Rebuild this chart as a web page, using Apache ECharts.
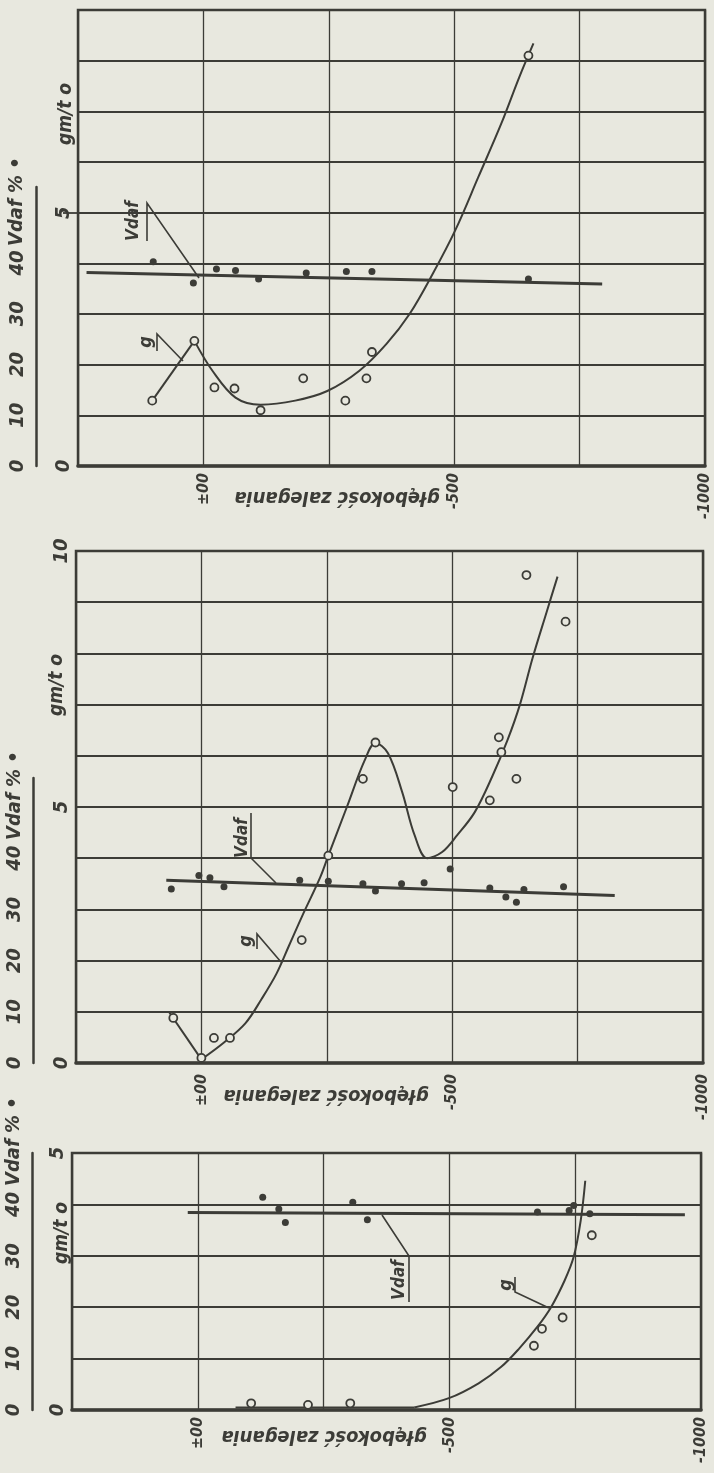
<!DOCTYPE html>
<html><head><meta charset="utf-8">
<script src="https://cdn.jsdelivr.net/npm/echarts@6.0.0/dist/echarts.min.js"></script>
<style>html,body{margin:0;padding:0;background:#e8e8df}#c{width:714px;height:1473px}</style>
</head><body><div id="c"></div>
<script>
// ---------------- data ----------------
// depth axis (głębokość zalegania), tick labels
const depthTickLabels = { "0": "±00", "-500": "-500", "-1000": "-1000" };
const gTickLabels = [0, 5, 10];
const vdafTickLabels = [0, 10, 20, 30, 40];

// Panel 1 (top)
const p1GPoints = [[102,1.29],[18,2.47],[-22,1.55],[-62,1.53],[-114,1.10],[-199,1.73],[-283,1.29],[-325,1.73],[-336,2.25],[-648,8.1]];
const p1GRise = [[102,1.29],[18,2.47]];
const p1GCurve = [[18,2.47],[-18,1.88],[-64,1.35],[-114,1.21],[-183,1.29],[-247,1.48],[-311,1.88],[-365,2.41],[-411,3.0],[-457,3.79],[-502,4.65],[-548,5.70],[-594,6.76],[-630,7.68],[-658,8.34]];
const p1VdafPoints = [[100,40.3],[20,36.1],[-26,38.9],[-64,38.6],[-110,36.9],[-205,38.1],[-285,38.4],[-336,38.4],[-648,36.9]];
const p1VdafLine = [[233,38.2],[-795,35.9]];

// Panel 2 (middle)
const p2GPoints = [[56,0.88],[0,0.1],[-25,0.49],[-57,0.49],[-200,2.40],[-253,4.05],[-322,5.55],[-347,6.26],[-501,5.39],[-575,5.13],[-593,6.36],[-598,6.07],[-628,5.55],[-648,9.53],[-726,8.62]];
const p2GRise = [[65,1.0],[0,0.07]];
const p2GCurve = [[0,0.07],[-45,0.4],[-88,0.78],[-120,1.25],[-150,1.75],[-175,2.3],[-200,2.85],[-237,3.63],[-253,4.05],[-290,5.0],[-325,5.9],[-347,6.25],[-372,6.05],[-400,5.3],[-425,4.45],[-450,4.0],[-480,4.12],[-510,4.45],[-545,4.9],[-580,5.6],[-610,6.3],[-635,7.0],[-660,7.9],[-688,8.8],[-710,9.5]];
const p2VdafPoints = [[60,34.0],[5,36.6],[-17,36.2],[-45,34.4],[-196,35.7],[-253,35.5],[-322,35.0],[-347,33.6],[-399,35.0],[-444,35.2],[-496,37.9],[-575,34.2],[-607,32.4],[-628,31.4],[-643,33.9],[-722,34.4]];
const p2VdafLine = [[70,35.7],[-824,32.7]];

// Panel 3 (bottom)
const p3GPoints = [[-106,0.13],[-219,0.10],[-303,0.13],[-668,1.25],[-684,1.58],[-725,1.80],[-783,3.40]];
const p3GRise = [[-75,0.05],[-300,0.05],[-430,0.05]];
const p3GCurve = [[-430,0.05],[-499,0.23],[-558,0.52],[-603,0.84],[-639,1.2],[-675,1.62],[-702,2.0],[-729,2.52],[-747,2.98],[-761,3.69],[-770,4.46]];
const p3VdafPoints = [[-129,41.4],[-161,39.1],[-174,36.5],[-308,40.4],[-337,37.0],[-675,38.5],[-738,38.8],[-747,39.8],[-779,38.2]];
const p3VdafLine = [[20,38.4],[-968,38.0]];

// ---------------- layout / style ----------------
const BG = '#e8e8df';
const INK = '#3c3c37';
const FONT = "'Liberation Sans Narrow','DejaVu Sans Condensed','Roboto Condensed','Liberation Sans',sans-serif";

const panels = [
  { grid:{left:78, top:10, width:627, height:456}, gMax:9,
    bar:{left:36, top:187, height:279, max:55}, depthMargin:7,
    gPoints:p1GPoints, gRise:p1GRise, gCurve:p1GCurve, vPoints:p1VdafPoints, vLine:p1VdafLine },
  { grid:{left:76, top:551, width:627, height:512}, gMax:10,
    bar:{left:33, top:778, height:285, max:55.7}, depthMargin:11,
    gPoints:p2GPoints, gRise:p2GRise, gCurve:p2GCurve, vPoints:p2VdafPoints, vLine:p2VdafLine },
  { grid:{left:72, top:1153, width:629, height:257}, gMax:5,
    bar:{left:32, top:1153, height:257, max:50}, depthMargin:7,
    gPoints:p3GPoints, gRise:p3GRise, gCurve:p3GCurve, vPoints:p3VdafPoints, vLine:p3VdafLine }
];

const grid = [], xAxis = [], yAxis = [], series = [];
const labelFont = {color:INK, fontFamily:FONT, fontWeight:'bold', fontStyle:'italic'};

panels.forEach(p => {
  const gi = grid.length;
  grid.push({left:p.grid.left, top:p.grid.top, width:p.grid.width, height:p.grid.height,
    show:true, borderColor:INK, borderWidth:2.5, backgroundColor:'transparent',
    containLabel:false, outerBoundsMode:'none'});
  const xi = xAxis.length;
  xAxis.push({type:'value', gridIndex:gi, min:-1000, max:250, interval:250, inverse:true,
    axisLine:{show:true, onZero:false, lineStyle:{color:INK, width:3.5}},
    axisTick:{show:false},
    splitLine:{show:true, lineStyle:{color:INK, width:1.3}},
    axisLabel:Object.assign({rotate:90, margin:p.depthMargin, fontSize:16,
      formatter: v => depthTickLabels[String(v)] || ''}, labelFont)
  });
  const gy = yAxis.length;
  yAxis.push({type:'value', gridIndex:gi, min:0, max:p.gMax, interval:1,
    axisLine:{show:false}, axisTick:{show:false},
    splitLine:{show:true, lineStyle:{color:INK, width:1.8}},
    axisLabel:Object.assign({rotate:90, margin:4, fontSize:20,
      formatter: v => gTickLabels.includes(v) ? String(v) : ''}, labelFont)
  });
  const vy = yAxis.length;
  yAxis.push({type:'value', gridIndex:gi, min:0, max:p.gMax*10, show:false, splitLine:{show:false}});

  const bgi = grid.length;
  grid.push({left:p.bar.left, top:p.bar.top, width:1, height:p.bar.height, show:false,
    containLabel:false, outerBoundsMode:'none'});
  xAxis.push({type:'value', gridIndex:bgi, show:false, min:0, max:1, splitLine:{show:false}});
  yAxis.push({type:'value', gridIndex:bgi, min:0, max:p.bar.max, interval:10,
    axisLine:{show:true, lineStyle:{color:INK, width:2.5}}, axisTick:{show:false},
    splitLine:{show:false},
    axisLabel:Object.assign({rotate:90, margin:8, fontSize:20,
      formatter: v => vdafTickLabels.includes(v) ? String(v) : ''}, labelFont)
  });

  series.push({type:'line', xAxisIndex:xi, yAxisIndex:gy, data:p.gRise, symbol:'none',
    lineStyle:{color:INK, width:2}, z:3});
  series.push({type:'line', xAxisIndex:xi, yAxisIndex:gy, data:p.gCurve, symbol:'none', smooth:0.35,
    lineStyle:{color:INK, width:2}, z:3});
  series.push({type:'line', xAxisIndex:xi, yAxisIndex:vy, data:p.vLine, symbol:'none',
    lineStyle:{color:INK, width:3}, z:3});
  series.push({type:'scatter', xAxisIndex:xi, yAxisIndex:gy, data:p.gPoints, symbol:'circle', symbolSize:8,
    itemStyle:{color:BG, borderColor:INK, borderWidth:1.8, opacity:1}, z:5});
  series.push({type:'scatter', xAxisIndex:xi, yAxisIndex:vy, data:p.vPoints, symbol:'circle', symbolSize:7,
    itemStyle:{color:INK, opacity:1}, z:5});
});

const R = Math.PI/2;
function txt(text, x, y, rot, size, align, extra) {
  return Object.assign({type:'text', x:x, y:y, rotation:rot, z:10,
    style:{text:text, fill:INK, font:'italic bold '+size+'px '+FONT,
      align:align || 'center', verticalAlign:'middle'}}, extra || {});
}
function pl(points, w) {
  return {type:'polyline', z:10, shape:{points:points}, style:{stroke:INK, lineWidth:w || 1.6, fill:null}};
}

const graphic = [
  txt('głębokość zalegania', 337, 497, Math.PI, 20),
  txt('głębokość zalegania', 326, 1095, Math.PI, 20),
  txt('głębokość zalegania', 324, 1436, Math.PI, 20),
  txt('gm/t o', 66, 114, R, 19),
  txt('gm/t o', 57, 685, R, 19),
  txt('gm/t o', 62, 1233, R, 19),
  txt('Vdaf % •', 17, 246, R, 20, 'left'),
  txt('Vdaf % •', 15, 840, R, 20, 'left'),
  txt('Vdaf % •', 14, 1186, R, 20, 'left'),
  // long tick at g = 5 in the top panel
  pl([[63,213],[78,213]], 1.8),
  // curve annotations
  txt('g', 146, 342, R, 18),
  pl([[157,351],[157,334],[183,361]]),
  txt('Vdaf', 134, 221, R, 17),
  pl([[147,241],[147,203],[199,278]]),
  txt('Vdaf', 243, 838, R, 17),
  pl([[251,813],[251,858],[276,883]]),
  txt('g', 246, 941, R, 18),
  pl([[257,949],[257,934],[281,962]]),
  txt('Vdaf', 400, 1280, R, 17),
  pl([[409,1302],[409,1256],[382,1215]]),
  txt('g', 506, 1285, R, 18),
  pl([[515,1277],[515,1292],[549,1308]])
];

const chart = echarts.init(document.getElementById('c'), null, {renderer:'canvas'});
chart.setOption({
  backgroundColor: BG,
  animation: false,
  grid: grid, xAxis: xAxis, yAxis: yAxis, series: series, graphic: graphic
});
</script>
</body></html>
